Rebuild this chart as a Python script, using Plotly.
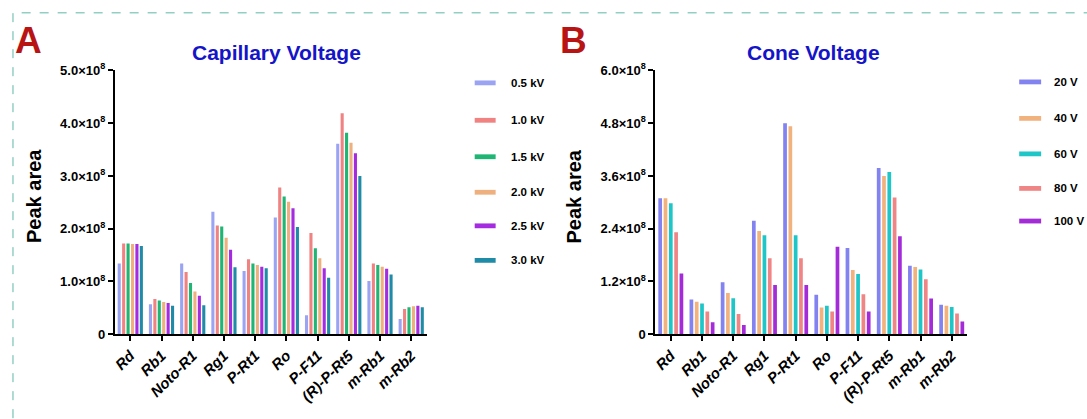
import plotly.graph_objects as go

W, H = 1087, 419

categories = ["Rd", "Rb1", "Noto-R1", "Rg1", "P-Rt1", "Ro", "P-F11", "(R)-P-Rt5", "m-Rb1", "m-Rb2"]

# Panel A: Capillary Voltage (values in units of 1e8)
cap_names = ["0.5 kV", "1.0 kV", "1.5 kV", "2.0 kV", "2.5 kV", "3.0 kV"]
cap_05 = [1.34, 0.57, 1.34, 2.32, 1.20, 2.21, 0.36, 3.61, 1.01, 0.29]
cap_10 = [1.72, 0.67, 1.18, 2.06, 1.42, 2.78, 1.92, 4.19, 1.34, 0.48]
cap_15 = [1.72, 0.64, 0.97, 2.04, 1.34, 2.61, 1.63, 3.82, 1.31, 0.51]
cap_20 = [1.71, 0.61, 0.81, 1.83, 1.31, 2.51, 1.44, 3.63, 1.28, 0.53]
cap_25 = [1.71, 0.59, 0.73, 1.60, 1.28, 2.39, 1.25, 3.43, 1.24, 0.54]
cap_30 = [1.67, 0.54, 0.55, 1.27, 1.25, 2.03, 1.07, 3.00, 1.13, 0.51]
cap_colors = ["#9BA4F2", "#F08282", "#1FB574", "#EDB07E", "#A52BE0", "#1F8BA6"]

# Panel B: Cone Voltage (values in units of 1e8)
cone_names = ["20 V", "40 V", "60 V", "80 V", "100 V"]
cone_20 = [3.09, 0.79, 1.18, 2.58, 4.80, 0.90, 1.96, 3.78, 1.56, 0.67]
cone_40 = [3.09, 0.74, 0.94, 2.35, 4.73, 0.61, 1.46, 3.60, 1.53, 0.65]
cone_60 = [2.98, 0.70, 0.82, 2.25, 2.25, 0.65, 1.37, 3.69, 1.47, 0.62]
cone_80 = [2.32, 0.52, 0.46, 1.73, 1.73, 0.52, 0.91, 3.11, 1.25, 0.47]
cone_100 = [1.38, 0.27, 0.21, 1.12, 1.12, 1.99, 0.52, 2.23, 0.81, 0.29]
cone_colors = ["#8282F0", "#F2B27E", "#1EC6C8", "#F08585", "#A42BD8"]

capA_ticks = [0, 1, 2, 3, 4, 5]
capA_text = ["0", "1.0×10<sup>8</sup>", "2.0×10<sup>8</sup>", "3.0×10<sup>8</sup>", "4.0×10<sup>8</sup>", "5.0×10<sup>8</sup>"]
coneB_ticks = [0, 1.2, 2.4, 3.6, 4.8, 6.0]
coneB_text = ["0", "1.2×10<sup>8</sup>", "2.4×10<sup>8</sup>", "3.6×10<sup>8</sup>", "4.8×10<sup>8</sup>", "6.0×10<sup>8</sup>"]

FONT = "Arial, Liberation Sans, Helvetica, sans-serif"

def px_x(x):
    return x / W

def px_y(y):
    return 1 - y / H

fig = go.Figure()

cap_series = [cap_05, cap_10, cap_15, cap_20, cap_25, cap_30]
for name, vals, col in zip(cap_names, cap_series, cap_colors):
    fig.add_trace(go.Bar(x=categories, y=[v * 1e8 for v in vals], name=name,
                         marker=dict(color=col, line=dict(width=0)),
                         xaxis="x", yaxis="y", showlegend=False, offsetgroup=name))

cone_series = [cone_20, cone_40, cone_60, cone_80, cone_100]
for name, vals, col in zip(cone_names, cone_series, cone_colors):
    fig.add_trace(go.Bar(x=categories, y=[v * 1e8 for v in vals], name=name,
                         marker=dict(color=col, line=dict(width=0)),
                         xaxis="x2", yaxis="y2", showlegend=False, offsetgroup=name))

xA = [112, 425]
xB = [654, 967]
ytop, ybot = 64, 339

xcommon = dict(type="category", showline=True, linecolor="black", linewidth=1.6,
               ticks="outside", ticklen=5, tickwidth=1.5, tickcolor="black",
               tickangle=-45, showgrid=False, zeroline=False,
               tickfont=dict(family=FONT, size=15, color="black", weight="bold", style="italic"),
               range=[-0.5, 9.5])
ycommon = dict(showline=True, linecolor="black", linewidth=1.6,
               ticks="outside", ticklen=5, tickwidth=1.5, tickcolor="black",
               showgrid=False, zeroline=False,
               tickfont=dict(family=FONT, size=13, color="black", weight="bold"))

fig.update_layout(
    width=W, height=H,
    margin=dict(l=0, r=0, t=0, b=0),
    paper_bgcolor="white", plot_bgcolor="white",
    barmode="group", bargap=0.15, bargroupgap=0.3,
    showlegend=False,
    xaxis=dict(domain=[px_x(xA[0]), px_x(xA[1])], anchor="y", **xcommon),
    yaxis=dict(domain=[px_y(ybot), px_y(ytop)], anchor="x", range=[0, 5e8],
               tickvals=[t * 1e8 for t in capA_ticks], ticktext=capA_text, **ycommon),
    xaxis2=dict(domain=[px_x(xB[0]), px_x(xB[1])], anchor="y2", **xcommon),
    yaxis2=dict(domain=[px_y(ybot), px_y(ytop)], anchor="x2", range=[0, 6e8],
                tickvals=[t * 1e8 for t in coneB_ticks], ticktext=coneB_text, **ycommon),
)

ann = []
shapes = []

def text_at(txt, x, y, size, color="black", xanchor="center", angle=0):
    ann.append(dict(text=txt, x=px_x(x), y=px_y(y), xref="paper", yref="paper",
                    xanchor=xanchor, yanchor="middle", showarrow=False, textangle=angle,
                    font=dict(family=FONT, size=size, color=color, weight="bold")))

# dashed frame
shapes.append(dict(type="rect", xref="paper", yref="paper",
                   x0=px_x(10), x1=1.02, y0=-0.05, y1=px_y(4),
                   line=dict(color="#5DB8A6", width=1, dash="dash")))

# panel letters
text_at("A", 26, 33, 37, "#B81414")
text_at("B", 572, 33, 37, "#B81414")

# titles
text_at("Capillary Voltage", 274, 45, 21, "#1414C8")
text_at("Cone Voltage", 813, 45, 21, "#1414C8")

# y-axis titles
text_at("Peak area", 31, 195, 20, angle=-90)
text_at("Peak area", 573, 195, 20, angle=-90)

# custom legends
legA_y = [77, 116, 154, 191, 226, 262]
for name, col, yy in zip(cap_names, cap_colors, legA_y):
    shapes.append(dict(type="rect", xref="paper", yref="paper",
                       x0=px_x(473), x1=px_x(494), y0=px_y(yy + 2.5), y1=px_y(yy - 2.5),
                       fillcolor=col, line=dict(width=0)))
    text_at(name, 507, yy, 11.5, xanchor="left")

legB_y = [76, 114, 151, 187, 221]
for name, col, yy in zip(cone_names, cone_colors, legB_y):
    shapes.append(dict(type="rect", xref="paper", yref="paper",
                       x0=px_x(1019), x1=px_x(1041), y0=px_y(yy + 2.5), y1=px_y(yy - 2.5),
                       fillcolor=col, line=dict(width=0)))
    text_at(name, 1052, yy, 11.5, xanchor="left")

fig.update_layout(annotations=ann, shapes=shapes)

fig.write_html("out.html", config={"displayModeBar": False},
               post_script="document.body.style.margin='0';document.body.style.padding='0';document.documentElement.style.overflow='hidden';")
